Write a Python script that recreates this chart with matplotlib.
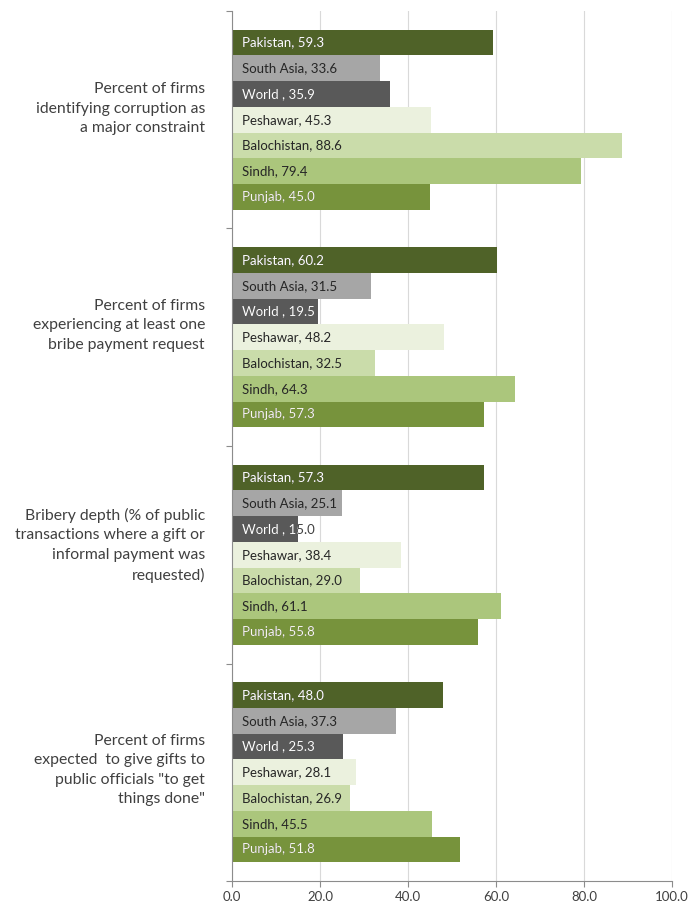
import matplotlib
matplotlib.use("Agg")
import matplotlib.pyplot as plt

# Indicator groups (top to bottom)
indicators = [
    "Percent of firms\nidentifying corruption as\na major constraint",
    "Percent of firms\nexperiencing at least one\nbribe payment request",
    "Bribery depth (% of public\ntransactions where a gift or\ninformal payment was\nrequested)",
    "Percent of firms\nexpected  to give gifts to\npublic officials \"to get\nthings done\"",
]

# Series, in the order they appear inside each group (top to bottom)
series_names = ["Pakistan", "South Asia", "World ", "Peshawar", "Balochistan", "Sindh", "Punjab"]

pakistan = [59.3, 60.2, 57.3, 48.0]
south_asia = [33.6, 31.5, 25.1, 37.3]
world = [35.9, 19.5, 15.0, 25.3]
peshawar = [45.3, 48.2, 38.4, 28.1]
balochistan = [88.6, 32.5, 29.0, 26.9]
sindh = [79.4, 64.3, 61.1, 45.5]
punjab = [45.0, 57.3, 55.8, 51.8]

series_values = [pakistan, south_asia, world, peshawar, balochistan, sindh, punjab]

xticks = [0, 20, 40, 60, 80, 100]

bar_colors = ["#4F6228", "#A6A6A6", "#595959", "#EBF1DE", "#CADCAA", "#ABC67C", "#77933C"]
text_colors = ["white", "#262626", "white", "#262626", "#262626", "#262626", "#FAFAF0"]

FONT = ["Lato", "DejaVu Sans"]
BAR_FS = 9.5

fig = plt.figure(figsize=(6.95, 9.07), dpi=100)
W, H = 695, 907
ax = fig.add_axes([232 / W, 1 - 881 / H, 440 / W, 870 / H])

n = len(series_names)
h = 0.1182
for j, (name, vals) in enumerate(zip(series_names, series_values)):
    ys = [g + (j - (n - 1) / 2) * h for g in range(len(indicators))]
    bars = ax.barh(ys, vals, height=h, color=bar_colors[j], edgecolor="none", zorder=2)
    for y, v, bar in zip(ys, vals, bars):
        label = f"{name}, {v:.1f}"
        if text_colors[j] != "#262626":
            # dark copy for any part of the text running past the bar end
            ax.annotate(label, xy=(0, y), xytext=(7.5, 0), textcoords="offset points",
                        ha="left", va="center", fontsize=BAR_FS, color="#404040",
                        family=FONT, zorder=3)
            t = ax.annotate(label, xy=(0, y), xytext=(7.5, 0), textcoords="offset points",
                            ha="left", va="center", fontsize=BAR_FS, color=text_colors[j],
                            family=FONT, zorder=4)
            t.set_clip_path(bar)
        else:
            ax.annotate(label, xy=(0, y), xytext=(7.5, 0), textcoords="offset points",
                        ha="left", va="center", fontsize=BAR_FS, color=text_colors[j],
                        family=FONT, zorder=3)

ax.set_xlim(0, 100)
ax.set_ylim(len(indicators) - 0.5, -0.5)
ax.set_xticks(xticks)
ax.set_xticklabels([f"{t:.1f}" for t in xticks], family=FONT, fontsize=9.5, color="#404040")
ax.set_yticks([k - 0.5 for k in range(len(indicators) + 1)])
ax.set_yticklabels([])
ax.tick_params(axis="both", direction="out", length=4, width=0.8, color="#8C8C8C", pad=3)

ax.grid(axis="x", color="#D9D9D9", linewidth=0.8, zorder=0)
ax.set_axisbelow(True)
for side in ("top", "right"):
    ax.spines[side].set_visible(False)
for side in ("left", "bottom"):
    ax.spines[side].set_color("#8C8C8C")
    ax.spines[side].set_linewidth(0.8)

# vertical nudge (points) of each indicator caption relative to its group centre
caption_shift = [8, 8.5, 7, 1.5]
for g, text in enumerate(indicators):
    ax.annotate(text, xy=(0, g), xycoords=("axes fraction", "data"),
                xytext=(-19.5, caption_shift[g]), textcoords="offset points",
                ha="right", va="center", multialignment="right",
                fontsize=11.3, color="#404040", family=FONT, linespacing=1.5)

fig.savefig("out.png", dpi=100, facecolor="white")
